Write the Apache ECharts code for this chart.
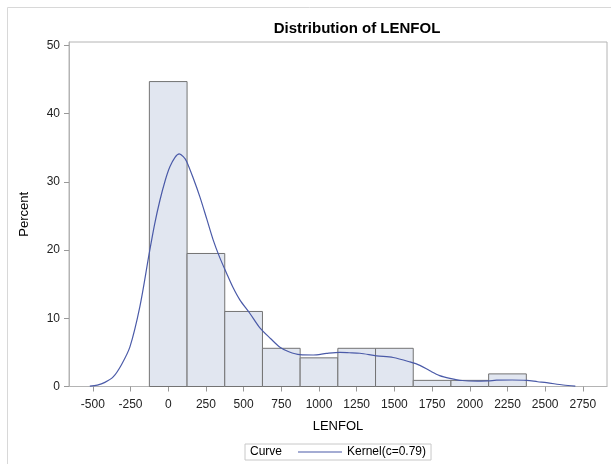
<!DOCTYPE html>
<html>
<head>
<meta charset="utf-8">
<script src="https://cdn.jsdelivr.net/npm/echarts@6/dist/echarts.min.js"></script>
<style>html,body{margin:0;padding:0;background:#fff;}#c{width:611px;height:464px;}</style>
</head>
<body>
<div id="c"></div>
<script>
// ---- data ----
var binWidth = 250;
var binCenters = [0, 250, 500, 750, 1000, 1250, 1500, 1750, 2000, 2250];
var binPercents = [44.7, 19.5, 11.0, 5.6, 4.2, 5.6, 5.6, 0.9, 0.9, 1.85];
var kernelX = [-520, -470, -420, -365, -310, -254, -188, -126, -90, -55, -20, 11, 45, 73, 100, 122, 165, 210, 255, 298, 340, 387, 430, 475, 542, 608, 680, 741, 800, 874, 962, 1050, 1139, 1200, 1271, 1382, 1492, 1603, 1669, 1735, 1800, 1868, 1950, 2050, 2122, 2178, 2280, 2377, 2450, 2509, 2619, 2700];
var kernelY = [0.05, 0.2, 0.6, 1.4, 3.2, 5.8, 11.7, 19.5, 23.8, 27.3, 30.2, 32.2, 33.6, 34.1, 33.7, 33.0, 30.6, 27.8, 24.6, 21.5, 19.0, 16.6, 14.5, 12.7, 10.7, 8.6, 7.0, 5.75, 5.1, 4.67, 4.62, 4.85, 5.0, 4.95, 4.87, 4.5, 4.25, 3.6, 3.1, 2.3, 1.6, 1.2, 0.88, 0.8, 0.82, 0.93, 0.95, 0.9, 0.7, 0.56, 0.22, 0.05];
var xTicks = [-500, -250, 0, 250, 500, 750, 1000, 1250, 1500, 1750, 2000, 2250, 2500, 2750];
var yTicks = [0, 10, 20, 30, 40, 50];
var titleText = 'Distribution of LENFOL';
var curveName = 'Kernel(c=0.79)';

var histData = binCenters.map(function (c, i) { return [c, binPercents[i]]; });
var kernelData = kernelX.map(function (x, i) { return [x, kernelY[i]]; });

var chart = echarts.init(document.getElementById('c'), null, {renderer: 'canvas'});
var font = 'Liberation Sans, Arial, sans-serif';
var frameColor = '#b4b4b4';
var plainNum = function (v) { return String(v); };
chart.setOption({
  backgroundColor: '#fff',
  animation: false,
  title: {
    text: titleText, left: 352, top: 16, textAlign: 'center',
    textStyle: {fontFamily: font, fontSize: 15, fontWeight: 'bold', color: '#000'}
  },
  graphic: [
    {type: 'rect', shape: {x: 7.5, y: 7.5, width: 700, height: 600}, style: {fill: null, stroke: '#d8d8d8', lineWidth: 1}, silent: true, z: -10},
    {type: 'text', left: 250, top: 446, style: {text: 'Curve', font: '12px ' + font, fill: '#000'}, z: 100}
  ],
  legend: {
    left: 245, top: 444,
    padding: [1, 5, 1, 53],
    borderColor: '#c8c8c8', borderWidth: 1,
    icon: 'rect',
    itemWidth: 44, itemHeight: 1.2, itemGap: 5,
    textStyle: {fontFamily: font, fontSize: 12, color: '#000', lineHeight: 14},
    data: [{name: curveName}]
  },
  grid: {left: 69, right: 4, top: 42, bottom: 77.5, show: true, borderColor: frameColor, borderWidth: 1, containLabel: false},
  xAxis: {
    type: 'value', min: -658, max: 2910,
    name: 'LENFOL', nameLocation: 'middle', nameGap: 33,
    nameTextStyle: {fontFamily: font, fontSize: 13, color: '#000'},
    axisLine: {show: true, onZero: false, lineStyle: {color: frameColor}},
    axisTick: {show: true, length: 5, inside: false, customValues: xTicks, lineStyle: {color: '#999'}},
    axisLabel: {customValues: xTicks, margin: 12, fontFamily: font, fontSize: 12, color: '#222', formatter: plainNum},
    splitLine: {show: false}
  },
  yAxis: {
    type: 'value', min: 0, max: 50.5,
    name: 'Percent', nameLocation: 'middle', nameGap: 38, nameRotate: 90,
    nameTextStyle: {fontFamily: font, fontSize: 13, color: '#000'},
    axisLine: {show: true, onZero: false, lineStyle: {color: frameColor}},
    axisTick: {show: true, length: 5, inside: false, customValues: yTicks, lineStyle: {color: '#999'}},
    axisLabel: {customValues: yTicks, margin: 9, fontFamily: font, fontSize: 12, color: '#222', formatter: plainNum},
    splitLine: {show: false}
  },
  series: [
    {
      type: 'custom', name: 'hist', data: histData,
      renderItem: function (params, api) {
        var c = api.value(0), v = api.value(1);
        var p0 = api.coord([c - binWidth / 2, v]);
        var p1 = api.coord([c + binWidth / 2, 0]);
        return {
          type: 'rect',
          shape: {x: p0[0], y: p0[1], width: p1[0] - p0[0], height: p1[1] - p0[1]},
          style: {fill: '#e1e6f0', stroke: '#737373', lineWidth: 1}
        };
      },
      encode: {x: 0, y: 1},
      z: 1
    },
    {
      type: 'line', name: curveName, data: kernelData,
      smooth: 0.3, symbol: 'none', showSymbol: false,
      lineStyle: {color: '#4a5aa8', width: 1.2},
      itemStyle: {color: '#4a5aa8'},
      z: 3
    }
  ]
});
</script>
</body>
</html>
